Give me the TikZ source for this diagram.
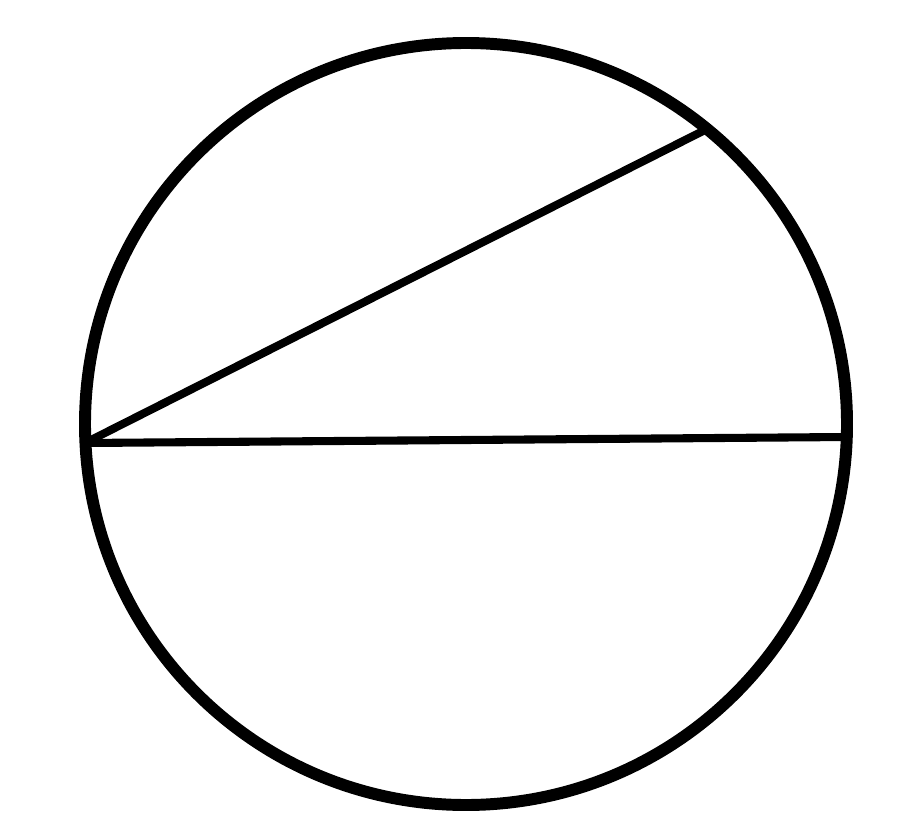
\documentclass[tikz,border=0pt]{standalone}
\usepackage{tikz}
\usetikzlibrary{calc}

\begin{document}
\begin{tikzpicture}[x=0.02cm, y=-0.02cm]
        \useasboundingbox (0,0) rectangle (901,827);
        
        % Circle
        \coordinate (O) at (466,424);
        \draw[line width=6.8pt] (O) circle (381);
        
        % Chord end points
        \coordinate (A) at (85,443);
        \coordinate (B) at (846,437);
        \coordinate (C) at (703,131);
        
        % Diameter and chord
        \draw[line width=4.6pt] (A) -- (B);
        \draw[line width=4.6pt] (A) -- (C);
        
    \end{tikzpicture}
\end{document}
